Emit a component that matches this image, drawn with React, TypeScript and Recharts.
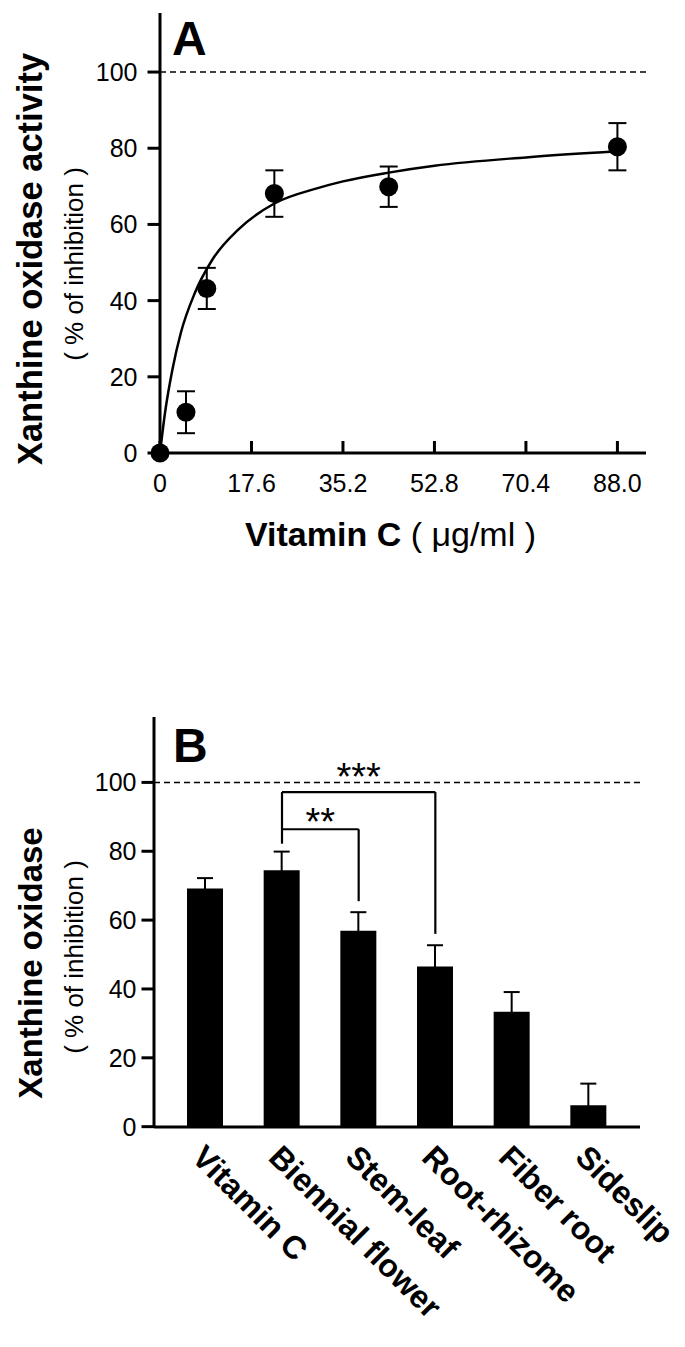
import React from 'react';
import { ComposedChart, BarChart, Bar, Line, Scatter, XAxis, YAxis, ErrorBar, ReferenceLine } from 'recharts';

const FONT = "'Liberation Sans', Arial, Helvetica, sans-serif";

// Panel A - vitamin C dose response
const doseA = [0, 5, 9, 22, 44, 88];
const inhibitionA = [0, 10.7, 43.2, 68.1, 69.9, 80.4];
const semA = [0, 5.5, 5.4, 6.1, 5.3, 6.2];

// fitted curve
const fitDose = [0, 1, 2.4, 4, 6.7, 10, 15.1, 22, 30, 35.2, 44, 52.8, 70.4, 88];
const fitInhibition = [0, 10.9, 22, 31.5, 42, 50.6, 58.7, 65.5, 69.4, 71.3, 73.6, 75.4, 77.6, 79.2];

const doseTicks = [0, 17.6, 35.2, 52.8, 70.4, 88];
const percentTicks = [0, 20, 40, 60, 80, 100];

// Panel B - extracts
const extracts = ['Vitamin C', 'Biennial flower', 'Stem-leaf', 'Root-rhizome', 'Fiber root', 'Sideslip'];
const inhibitionB = [69.2, 74.5, 56.9, 46.5, 33.4, 6.2];
const semB = [3.0, 5.4, 5.4, 6.2, 5.7, 6.3];

// significance brackets (from Biennial flower)
const bracketFrom = 'Biennial flower';
const bracketTo = ['Stem-leaf', 'Root-rhizome'];
const bracketTop = [86.4, 97.2];
const bracketEnd = [65.5, 56.0];
const bracketLeftEnd = 82.2;
const bracketStars = ['**', '***'];

const pointsA = doseA.map((x, i) => ({ x, y: inhibitionA[i], err: semA[i] }));
const fitA = fitDose.map((x, i) => ({ x, y: fitInhibition[i] }));
const barData = extracts.map((name, i) => ({ name, v: inhibitionB[i], err: semB[i] }));

const axisStyle = { stroke: '#000', strokeWidth: 3 };

const percentTick = (shift: number) => (props: any) => {
  const { x, y, payload } = props;
  return (
    <text x={x - shift} y={y} textAnchor="end" dominantBaseline="central" fontSize={25} fontFamily={FONT} fill="#000">
      {payload.value}
    </text>
  );
};

const DoseTick = (props: any) => {
  const { x, y, payload } = props;
  const v = payload.value;
  return (
    <g>
      <line x1={x} x2={x} y1={y} y2={y - 12} stroke="#000" strokeWidth={3} />
      <text x={x} y={y + 39} textAnchor="middle" fontSize={25} fontFamily={FONT} fill="#000">
        {v === 0 ? '0' : v.toFixed(1)}
      </text>
    </g>
  );
};

const ExtractTick = (props: any) => {
  const { x, y, payload } = props;
  return (
    <text
      transform={`translate(${x - 15},${y + 32}) rotate(45)`}
      textAnchor="start"
      fontSize={32}
      fontWeight="bold"
      fontFamily={FONT}
      fill="#000"
    >
      {payload.value}
    </text>
  );
};

const Dot = (props: any) => <circle cx={props.cx} cy={props.cy} r={9.5} fill="#000" />;

const App: React.FC = () => {
  return (
    <div style={{ position: 'absolute', left: 0, top: 0, width: 685, height: 1347, background: '#fff', fontFamily: FONT }}>
      <div style={{ position: 'absolute', left: 0, top: 0 }}>
        <ComposedChart width={685} height={560} margin={{ top: 13, right: 39, left: 0, bottom: 0 }}>
          <XAxis
            type="number"
            dataKey="x"
            domain={[0, 93.5]}
            ticks={doseTicks}
            interval={0}
            height={107}
            tickSize={0}
            tickMargin={0}
            tickLine={false}
            axisLine={axisStyle}
            tick={DoseTick}
          />
          <YAxis
            type="number"
            domain={[0, 115.5]}
            ticks={percentTicks}
            interval={0}
            width={160}
            tickSize={12.5}
            axisLine={axisStyle}
            tickLine={axisStyle}
            tick={percentTick(8)}
          />
          <ReferenceLine y={100} stroke="#000" strokeWidth={1.5} strokeDasharray="6 4" />
          <Line data={fitA} dataKey="y" type="monotone" stroke="#000" strokeWidth={2.5} dot={false} isAnimationActive={false} />
          <Scatter data={pointsA} dataKey="y" shape={Dot} isAnimationActive={false}>
            <ErrorBar dataKey="err" direction="y" width={9} stroke="#000" strokeWidth={2} />
          </Scatter>
        </ComposedChart>
      </div>

      <div style={{ position: 'absolute', left: 0, top: 660 }}>
        <BarChart width={685} height={687} data={barData} margin={{ top: 57, right: 45, left: 0, bottom: 0 }} barSize={36}>
          <XAxis
            dataKey="name"
            type="category"
            height={220}
            padding={{ left: 13, right: 13 }}
            interval={0}
            tickSize={0}
            tickMargin={0}
            tickLine={false}
            axisLine={axisStyle}
            tick={ExtractTick}
          />
          <YAxis
            type="number"
            domain={[0, 119]}
            ticks={percentTicks}
            interval={0}
            width={154}
            tickSize={12.5}
            axisLine={axisStyle}
            tickLine={axisStyle}
            tick={percentTick(3)}
          />
          <ReferenceLine y={100} stroke="#000" strokeWidth={1.5} strokeDasharray="6 4" />
          <Bar dataKey="v" fill="#000" isAnimationActive={false}>
            <ErrorBar dataKey="err" direction="y" width={8} stroke="#000" strokeWidth={2} />
          </Bar>
          <ReferenceLine
            segment={[{ x: bracketFrom, y: bracketTop[1] }, { x: bracketFrom, y: bracketLeftEnd }]}
            stroke="#000"
            strokeWidth={2.2}
            ifOverflow="visible"
          />
          {bracketTo.map((to, i) => (
            <ReferenceLine
              key={`h-${to}`}
              segment={[{ x: bracketFrom, y: bracketTop[i] }, { x: to, y: bracketTop[i] }]}
              stroke="#000"
              strokeWidth={2.2}
              ifOverflow="visible"
              label={{
                value: bracketStars[i],
                position: 'top',
                offset: i === 0 ? -6 : 2,
                fontSize: 38,
                fontFamily: FONT,
                fill: '#000',
              }}
            />
          ))}
          {bracketTo.map((to, i) => (
            <ReferenceLine
              key={`v-${to}`}
              segment={[{ x: to, y: bracketTop[i] }, { x: to, y: bracketEnd[i] }]}
              stroke="#000"
              strokeWidth={2.2}
              ifOverflow="visible"
            />
          ))}
        </BarChart>
      </div>

      <svg width={685} height={1347} style={{ position: 'absolute', left: 0, top: 0, pointerEvents: 'none' }}>
        <g fontFamily={FONT} fill="#000">
          <text x={172} y={55} fontSize={48} fontWeight="bold">A</text>
          <text transform="translate(42,259) rotate(-90)" textAnchor="middle" fontSize={34.5} fontWeight="bold">
            Xanthine oxidase activity
          </text>
          <text transform="translate(83,264) rotate(-90)" textAnchor="middle" fontSize={26}>
            ( % of inhibition )
          </text>
          <text x={245} y={546} fontSize={34}>
            <tspan fontWeight="bold">Vitamin C</tspan>
            <tspan> ( μg/ml )</tspan>
          </text>

          <text x={173} y={762} fontSize={48} fontWeight="bold">B</text>
          <text transform="translate(42,963) rotate(-90)" textAnchor="middle" fontSize={33} fontWeight="bold">
            Xanthine oxidase
          </text>
          <text transform="translate(83,957) rotate(-90)" textAnchor="middle" fontSize={26}>
            ( % of inhibition )
          </text>
        </g>
      </svg>
    </div>
  );
};

export default App;
